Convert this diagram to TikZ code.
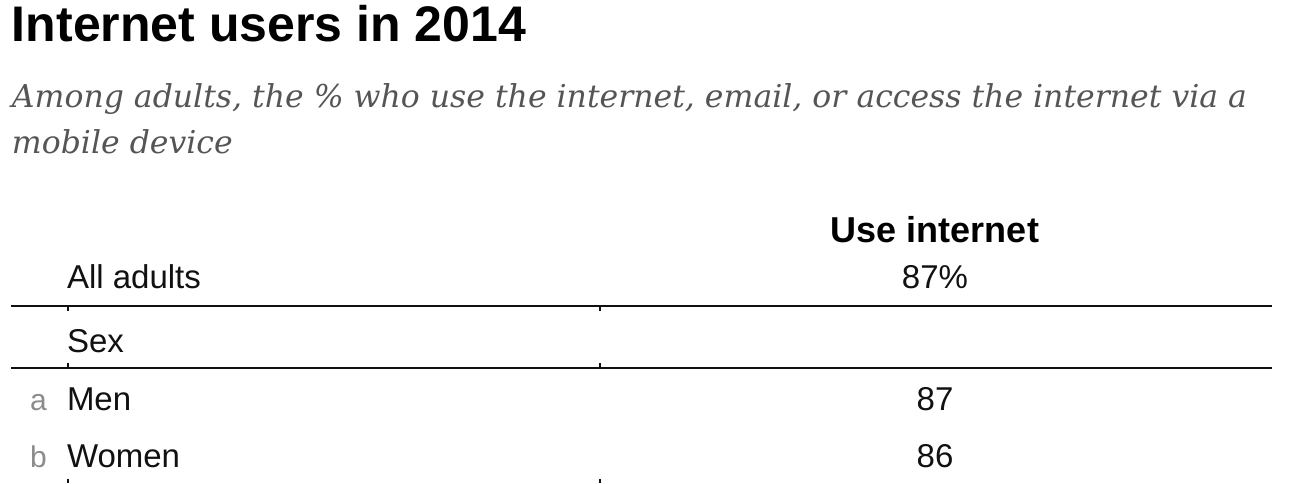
\documentclass[tikz,border=0pt]{standalone}
\usepackage{fontspec}
\setmainfont{Liberation Sans}
\newfontfamily\subfont{DejaVu Serif}
\usetikzlibrary{positioning}
\definecolor{subgray}{HTML}{555555}
\definecolor{keygray}{HTML}{8C8C8C}
\definecolor{ink}{HTML}{111111}

\begin{document}
\begin{tikzpicture}[x=1pt, y=-1pt, inner sep=0pt, outer sep=0pt]

    \tikzstyle{heading}=[anchor=base west, font=\fontsize{50}{60}\selectfont\bfseries, text=black]
    \tikzstyle{subline}=[anchor=base west, font=\fontsize{31.5}{38}\selectfont\subfont\itshape, text=subgray]
    \tikzstyle{rowname}=[anchor=base west, font=\fontsize{33}{40}\selectfont, text=ink]
    \tikzstyle{rowkey}=[anchor=base west, font=\fontsize{30}{36}\selectfont, text=keygray]
    \tikzstyle{cellval}=[anchor=base, font=\fontsize{33}{40}\selectfont, text=ink]
    \tikzstyle{colhead}=[anchor=base, font=\fontsize{36}{44}\selectfont\bfseries, text=black]
    \tikzstyle{tablerule}=[draw=ink, line width=2.5pt]
    \tikzstyle{coltick}=[draw=ink, line width=2pt]

    \useasboundingbox (0,0) rectangle (1314,483);

    \node[heading] (title) at (12,41) {Internet users in 2014};
    \node[subline] (sub1)  at (12,107) {Among adults, the \% who use the internet, email, or access the internet via a};
    \node[subline] (sub2)  at (12,153) {mobile device};

    \node[colhead] (usenet) at (935,242) {Use internet};

    \node[rowname] (all)    at (67,288) {All adults};
    \node[cellval] (allval) at (935,288) {87\%};

    \node[rowname] (sex)    at (67,352) {Sex};

    \node[rowkey]  (keya)   at (30,410) {a};
    \node[rowname] (men)    at (67,410) {Men};
    \node[cellval] (menval) at (935,410) {87};

    \node[rowkey]  (keyb)   at (30,467) {b};
    \node[rowname] (women)  at (67,467) {Women};
    \node[cellval] (womval) at (935,467) {86};

    % rules under the header and the group row
    \coordinate (topl) at (11,306);
    \coordinate (topr) at (1272,306);
    \coordinate (midl) at (11,368);
    \coordinate (midr) at (1272,368);
    \draw[tablerule] (topl) -- (topr);
    \draw[tablerule] (midl) -- (midr);

    \foreach \x in {68,600} {
        \draw[coltick] (\x,306) -- ++(0,5);
        \draw[coltick] (\x,368) -- ++(0,-5);
        \draw[coltick] (\x,479) -- ++(0,4);
    }
\end{tikzpicture}
\end{document}
